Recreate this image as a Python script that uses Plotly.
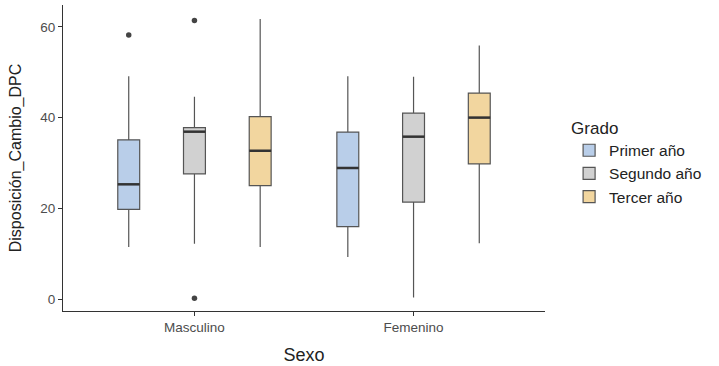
import plotly.graph_objects as go

sexo = ["Masculino", "Femenino"]
grados = ["Primer año", "Segundo año", "Tercer año"]
colores = ["#B9CEE9", "#D1D1D1", "#F2D69F"]

# stats per grado, order: [Masculino, Femenino]
lower = {"Primer año": [11.5, 9.3], "Segundo año": [12.2, 0.35], "Tercer año": [11.5, 12.3]}
q1 = {"Primer año": [19.8, 16.0], "Segundo año": [27.6, 21.4], "Tercer año": [25.0, 29.8]}
median = {"Primer año": [25.3, 28.9], "Segundo año": [36.9, 35.8], "Tercer año": [32.7, 40.0]}
q3 = {"Primer año": [35.1, 36.8], "Segundo año": [37.8, 41.0], "Tercer año": [40.2, 45.4]}
upper = {"Primer año": [49.1, 49.1], "Segundo año": [44.6, 49.0], "Tercer año": [61.7, 55.9]}
outliers = {"Primer año": [[58.2], []], "Segundo año": [[61.4, 0.2], []], "Tercer año": [[], []]}

dodge = 0.3
bw = 0.1
line_col = "#555555"

fig = go.Figure()
for j, g in enumerate(grados):
    xs = [i + 1 + (j - 1) * dodge for i in range(len(sexo))]
    fig.add_trace(go.Box(
        x=xs, q1=q1[g], median=median[g], q3=q3[g],
        lowerfence=lower[g], upperfence=upper[g],
        name=g, fillcolor=colores[j],
        line=dict(color=line_col, width=1.2),
        width=bw, whiskerwidth=0, boxpoints=False,
        legendgroup=g, showlegend=True,
    ))
    # median emphasised line
    for x, m in zip(xs, median[g]):
        fig.add_trace(go.Scatter(
            x=[x - bw / 2, x + bw / 2], y=[m, m], mode="lines",
            line=dict(color="#333333", width=2.5), showlegend=False,
            hoverinfo="skip", legendgroup=g,
        ))
    ox, oy = [], []
    for x, pts in zip(xs, outliers[g]):
        for p in pts:
            ox.append(x)
            oy.append(p)
    if ox:
        fig.add_trace(go.Scatter(
            x=ox, y=oy, mode="markers",
            marker=dict(color="#444444", size=5.5), showlegend=False,
            legendgroup=g,
        ))

font_fam = "Liberation Sans, Arial, sans-serif"
fig.update_layout(
    width=719, height=366,
    margin=dict(l=63, r=174, t=5, b=55),
    paper_bgcolor="white", plot_bgcolor="white",
    font=dict(family=font_fam, color="#222222"),
    showlegend=True,
    legend=dict(
        title=dict(text="Grado", font=dict(size=17, color="#222222")),
        font=dict(size=15.5, color="#222222"),
        x=1.05, xanchor="left", y=0.485, yanchor="middle",
        tracegroupgap=0, itemwidth=30,
        bgcolor="rgba(0,0,0,0)",
    ),
    xaxis=dict(
        range=[0.4, 2.6], tickmode="array", tickvals=[1, 2], ticktext=sexo,
        showgrid=False, zeroline=False, showline=True, linecolor="#333333",
        linewidth=1, ticks="outside", ticklen=4, tickcolor="#333333",
        tickfont=dict(size=13.5, color="#4D4D4D"), automargin=False,
        title=dict(text="Sexo", font=dict(size=18, color="#222222"), standoff=14),
    ),
    yaxis=dict(
        range=[-2.6, 64.8], tickvals=[0, 20, 40, 60],
        showgrid=False, zeroline=False, showline=True, linecolor="#333333",
        linewidth=1, ticks="outside", ticklen=4, tickcolor="#333333",
        tickfont=dict(size=13.5, color="#4D4D4D"), automargin=False,
        title=dict(text="Disposición_Cambio_DPC", font=dict(size=16, color="#222222"), standoff=14),
    ),
)

fig.write_html("out.html", config={"displayModeBar": False},
               post_script="document.body.style.margin='0';")
